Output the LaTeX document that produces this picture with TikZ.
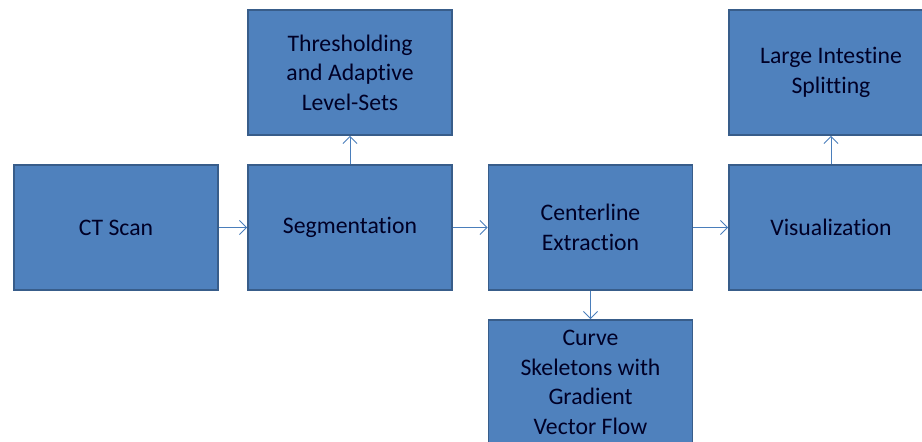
\documentclass[tikz,border=0pt]{standalone}
\usepackage{fontspec}
\setmainfont{Carlito}[Ligatures=NoCommon]
\usetikzlibrary{arrows.meta}
\definecolor{boxfill}{HTML}{4F81BD}
\definecolor{boxline}{HTML}{385D8A}
\definecolor{arrowline}{HTML}{4A7EBB}
\tikzset{
  etapa/.style={draw=boxline, line width=1.1pt, fill=boxfill, minimum width=4.08cm, minimum height=2.5cm,
    align=center, font=\fontsize{13.5}{16.8}\selectfont, text=black!85!blue, inner sep=2pt},
  seta/.style={draw=arrowline, line width=0.5pt, -{Straight Barb[length=4pt,width=8pt]}}
}
\begin{document}
\begin{tikzpicture}[x=0.02cm, y=-0.02cm]  %Escala em pixels
  \useasboundingbox (0,0) rectangle (922,441);
  \clip (0,0) rectangle (922,441);
      %Caixas
  \node[etapa] (ct)   at (116,227.5) {CT Scan};
  \node[etapa] (seg)  at (350,227.5) {Segmentation};
  \node[etapa] (cen)  at (590.5,227.5) {Centerline\\Extraction};
  \node[etapa] (vis)  at (831,227.5) {Visualization};
  \node[etapa] (thr)  at (350,72.5) {Thresholding\\and Adaptive\\Level-Sets};
  \node[etapa] (li)   at (831,72.5) {Large Intestine\\Splitting};
  \node[etapa] (cur)  at (590.5,382.5) {Curve\\Skeletons with\\Gradient\\Vector Flow};
      %Setas
  \draw[seta] (ct) -- (seg);
  \draw[seta] (seg) -- (cen);
  \draw[seta] (cen) -- (vis);
  \draw[seta] (seg) -- (thr);
  \draw[seta] (vis) -- (li);
  \draw[seta] (cen) -- (cur);
\end{tikzpicture}
\end{document}
